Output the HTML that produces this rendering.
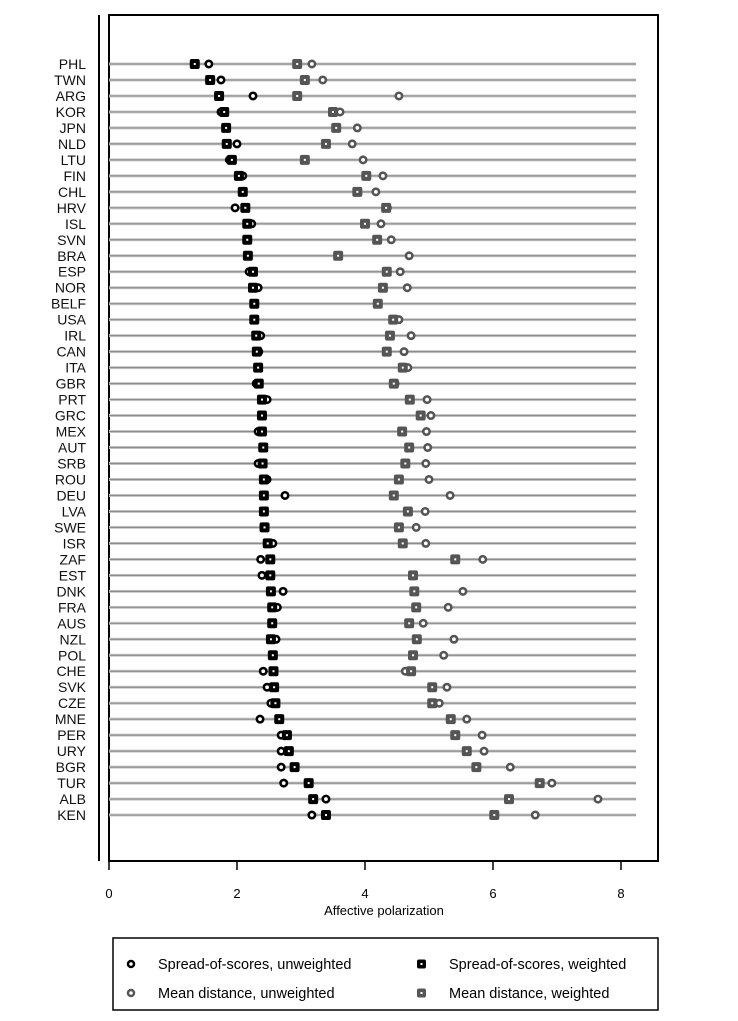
<!DOCTYPE html>
<html><head><meta charset="utf-8">
<style>
html,body{margin:0;padding:0;background:#fff;}
svg{display:block;font-family:"Liberation Sans",Arial,sans-serif;}
</style></head>
<body>
<svg id="chart" width="738" height="1021" viewBox="0 0 738 1021">
  <rect x="0" y="0" width="738" height="1021" fill="#fff"/>
  <line x1="99" y1="15" x2="99" y2="861" stroke="#000" stroke-width="2"/>
  <rect x="109" y="15" width="549" height="846" fill="none" stroke="#000" stroke-width="2"/>
  <g id="rows"></g>
  <g id="xaxis"></g>
  <text x="384" y="915" font-size="13" text-anchor="middle">Affective polarization</text>
  <g>
    <rect x="113" y="938" width="545" height="72" fill="none" stroke="#000" stroke-width="1.5"/>
    <g>
      <circle cx="131" cy="964" r="3" fill="#fff" stroke="#000" stroke-width="2.5"/>
      <text x="158" y="969" font-size="14.5">Spread-of-scores, unweighted</text>
    </g>
    <g>
      <rect x="417" y="959.5" width="9" height="9" rx="2" fill="#000"/><rect x="420.5" y="963" width="2" height="2" fill="#fff"/>
      <text x="449" y="969" font-size="14.5">Spread-of-scores, weighted</text>
    </g>
    <g>
      <circle cx="131" cy="993" r="3" fill="#fff" stroke="#555" stroke-width="2.5"/>
      <text x="158" y="998" font-size="14.5">Mean distance, unweighted</text>
    </g>
    <g>
      <rect x="417" y="988.5" width="9" height="9" rx="2" fill="#555"/><rect x="420.5" y="992" width="2" height="2" fill="#fff"/>
      <text x="449" y="998" font-size="14.5">Mean distance, weighted</text>
    </g>
  </g>
</svg>
<script>
const countries = ["PHL","TWN","ARG","KOR","JPN","NLD","LTU","FIN","CHL","HRV","ISL","SVN","BRA","ESP","NOR","BELF","USA","IRL","CAN","ITA","GBR","PRT","GRC","MEX","AUT","SRB","ROU","DEU","LVA","SWE","ISR","ZAF","EST","DNK","FRA","AUS","NZL","POL","CHE","SVK","CZE","MNE","PER","URY","BGR","TUR","ALB","KEN"];
const spreadWeighted = [1.34,1.58,1.72,1.80,1.83,1.84,1.92,2.03,2.09,2.13,2.16,2.16,2.17,2.25,2.25,2.27,2.27,2.30,2.31,2.33,2.34,2.39,2.39,2.39,2.41,2.40,2.42,2.42,2.42,2.43,2.48,2.52,2.52,2.53,2.55,2.55,2.53,2.56,2.57,2.58,2.60,2.66,2.78,2.81,2.90,3.12,3.19,3.39];
const spreadUnweighted = [1.56,1.75,2.25,1.75,1.83,2.00,1.88,2.09,2.09,1.97,2.23,2.16,2.17,2.19,2.33,2.27,2.27,2.37,2.34,2.33,2.30,2.47,2.39,2.33,2.41,2.33,2.47,2.75,2.42,2.43,2.56,2.37,2.39,2.72,2.63,2.55,2.61,2.56,2.41,2.47,2.53,2.36,2.69,2.69,2.69,2.73,3.39,3.17];
const meanWeighted = [2.94,3.06,2.94,3.50,3.55,3.39,3.06,4.02,3.88,4.33,4.00,4.19,3.58,4.34,4.28,4.20,4.44,4.39,4.34,4.59,4.45,4.70,4.87,4.58,4.69,4.63,4.53,4.45,4.67,4.53,4.59,5.41,4.75,4.77,4.80,4.69,4.81,4.75,4.72,5.05,5.05,5.34,5.41,5.59,5.74,6.73,6.25,6.02];
const meanUnweighted = [3.17,3.34,4.53,3.61,3.88,3.80,3.97,4.28,4.17,4.35,4.25,4.41,4.69,4.55,4.66,4.20,4.53,4.72,4.61,4.67,4.47,4.97,5.03,4.96,4.98,4.95,5.00,5.33,4.94,4.80,4.95,5.84,4.75,5.53,5.30,4.91,5.39,5.23,4.63,5.28,5.16,5.59,5.83,5.86,6.27,6.92,7.64,6.66];
const xTicks = [0,2,4,6,8];

const NS = "http://www.w3.org/2000/svg";
function xScale(v){ return 109 + v*64; }
function yScale(i){ return 64 + i*15.98; }
function mk(tag, attrs){ const e=document.createElementNS(NS,tag); for(const k in attrs) e.setAttribute(k,attrs[k]); return e; }

const rows = document.getElementById("rows");
countries.forEach((c,i)=>{
  const y = yScale(i);
  const g = mk("g",{});
  
  
  const ln = mk("line",{x1:109,x2:636,y1:y,y2:y,stroke:"#c8c8c8","stroke-width":3});
  
  
  g.appendChild(ln);
  const ln2 = mk("line",{x1:109,x2:636,y1:y,y2:y,stroke:"#8c8c8c","stroke-width":1.2});
  
  
  g.appendChild(ln2);
  const lab = mk("text",{x:86,y:y+5,"font-size":14,"text-anchor":"end",fill:"#111"});
  lab.textContent = c;
  
  
  g.appendChild(lab);
  function sq(v,col,name){
    const x=xScale(v);
    const s=mk("g",{});
    s.appendChild(mk("rect",{x:x-5,y:y-5,width:10,height:10,rx:2,fill:col}));
    s.appendChild(mk("rect",{x:x-1,y:y-1,width:2,height:2,fill:"#fff"}));
    
    
    g.appendChild(s);
  }
  function ci(v,col,name){
    const e=mk("circle",{cx:xScale(v),cy:y,r:3.2,fill:"#fff",stroke:col,"stroke-width":2.6});
    
    
    g.appendChild(e);
  }
  ci(meanUnweighted[i],"#555","mean-distance-unweighted-point");
  sq(meanWeighted[i],"#555","mean-distance-weighted-point");
  ci(spreadUnweighted[i],"#000","spread-unweighted-point");
  sq(spreadWeighted[i],"#000","spread-weighted-point");
  rows.appendChild(g);
});

const xa = document.getElementById("xaxis");
xTicks.forEach(t=>{
  const x=xScale(t);
  const tk=mk("line",{x1:x,x2:x,y1:861,y2:870,stroke:"#000","stroke-width":1.5});
  
  
  xa.appendChild(tk);
  const tl=mk("text",{x:x,y:898,"font-size":13,"text-anchor":"middle"});
  tl.textContent=String(t);
  
  
  xa.appendChild(tl);
});
</script>
</body></html>
